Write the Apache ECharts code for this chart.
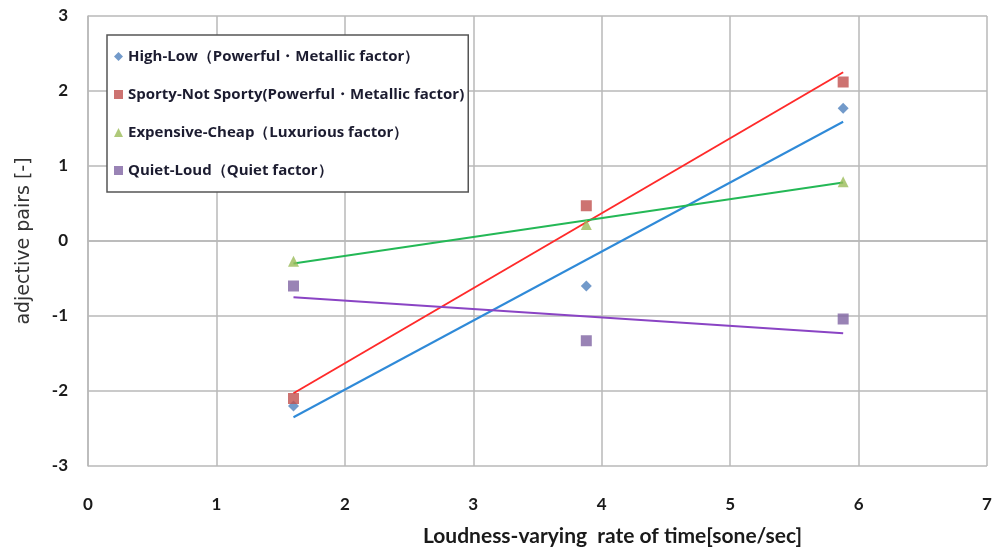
<!DOCTYPE html>
<html>
<head>
<meta charset="utf-8">
<script src="https://cdn.jsdelivr.net/npm/echarts@6/dist/echarts.min.js"></script>
<style>
  html, body { margin: 0; padding: 0; background: #fff; }
  #chart { width: 996px; height: 553px; }
</style>
</head>
<body>
<div id="chart"></div>
<script>
// Measured loudness-varying rates (sone/sec) for the three stimuli
const rates = [1.6, 3.88, 5.88];

// Adjective-pair scores at each rate
const highLow = [-2.2, -0.6, 1.77];
const sporty = [-2.1, 0.47, 2.12];
const expensive = [-0.27, 0.22, 0.79];
const quiet = [-0.6, -1.33, -1.04];

// Linear trend lines: [start, end] value at the first and last rate
const trendX = [1.6, 5.88];
const highLowTrend = [-2.35, 1.59];
const sportyTrend = [-2.03, 2.25];
const expensiveTrend = [-0.3, 0.78];
const quietTrend = [-0.75, -1.23];

const names = [
  'High-Low（Powerful・Metallic factor）',
  'Sporty-Not Sporty(Powerful・Metallic factor)',
  'Expensive-Cheap（Luxurious factor）',
  'Quiet-Loud（Quiet factor）'
];
const pointColors = ['#4f81bd', '#c0504d', '#9bbb59', '#8064a2'];
const lineColors = ['#2f8ad8', '#ff2a2a', '#24b856', '#8a44c4'];
const symbols = ['diamond', 'rect', 'triangle', 'rect'];
const symbolSizes = [11, 11, 11, 11];

const pointSets = [highLow, sporty, expensive, quiet];
const trendSets = [highLowTrend, sportyTrend, expensiveTrend, quietTrend];

const pair = (xs, ys) => xs.map((x, i) => [x, ys[i]]);

const series = [];
pointSets.forEach((ys, i) => {
  series.push({
    name: names[i],
    type: 'scatter',
    data: pair(rates, ys),
    symbol: symbols[i],
    symbolSize: symbolSizes[i],
    itemStyle: { color: pointColors[i] },
    z: 3
  });
});
trendSets.forEach((ys, i) => {
  series.push({
    name: names[i] + ' trend',
    type: 'line',
    data: pair(trendX, ys),
    showSymbol: false,
    symbol: 'none',
    lineStyle: { color: lineColors[i], width: 2 },
    silent: true,
    z: 2
  });
});

const chart = echarts.init(document.getElementById('chart'), null, { renderer: 'canvas' });
const gridColor = '#b8b8b8';
chart.setOption({
  animation: false,
  backgroundColor: '#ffffff',
  grid: { left: 88, right: 9, top: 16, bottom: 87, containLabel: false },
  legend: {
    data: names.map((n, i) => ({ name: n, icon: symbols[i] })),
    orient: 'vertical',
    left: 107,
    top: 35,
    itemWidth: 9,
    itemHeight: 9,
    itemGap: 23,
    padding: [14, 4, 14, 7],
    backgroundColor: '#ffffff',
    borderColor: '#555555',
    borderWidth: 1.5,
    textStyle: { fontFamily: 'Open Sans', fontWeight: 'bold', fontSize: 15, color: '#1c1c30' }
  },
  xAxis: {
    type: 'value',
    min: 0,
    max: 7,
    interval: 1,
    name: 'Loudness-varying  rate of time[sone/sec]',
    nameLocation: 'middle',
    nameGap: 60,
    nameTextStyle: { fontFamily: 'Lato', fontWeight: 'bold', fontSize: 21, color: '#1a1a1a', padding: [0, 0, 0, 150] },
    axisLine: { show: true, lineStyle: { color: gridColor, width: 1.5 } },
    axisTick: { show: false },
    axisLabel: { margin: 30, fontFamily: 'Lato', fontWeight: 'bold', fontSize: 17, color: '#1a1a1a' },
    splitLine: { show: true, lineStyle: { color: gridColor, width: 1.5 } }
  },
  yAxis: {
    type: 'value',
    min: -3,
    max: 3,
    interval: 1,
    name: 'adjective pairs [-]',
    nameLocation: 'middle',
    nameGap: 54,
    nameTextStyle: { fontFamily: 'DejaVu Sans', fontSize: 19, color: '#333333' },
    axisLine: { show: true, lineStyle: { color: gridColor, width: 1.5 } },
    axisTick: { show: false },
    axisLabel: { margin: 20, fontFamily: 'Lato', fontWeight: 'bold', fontSize: 17, color: '#1a1a1a' },
    splitLine: { show: true, lineStyle: { color: gridColor, width: 1.5 } }
  },
  series: series
});
</script>
</body>
</html>
